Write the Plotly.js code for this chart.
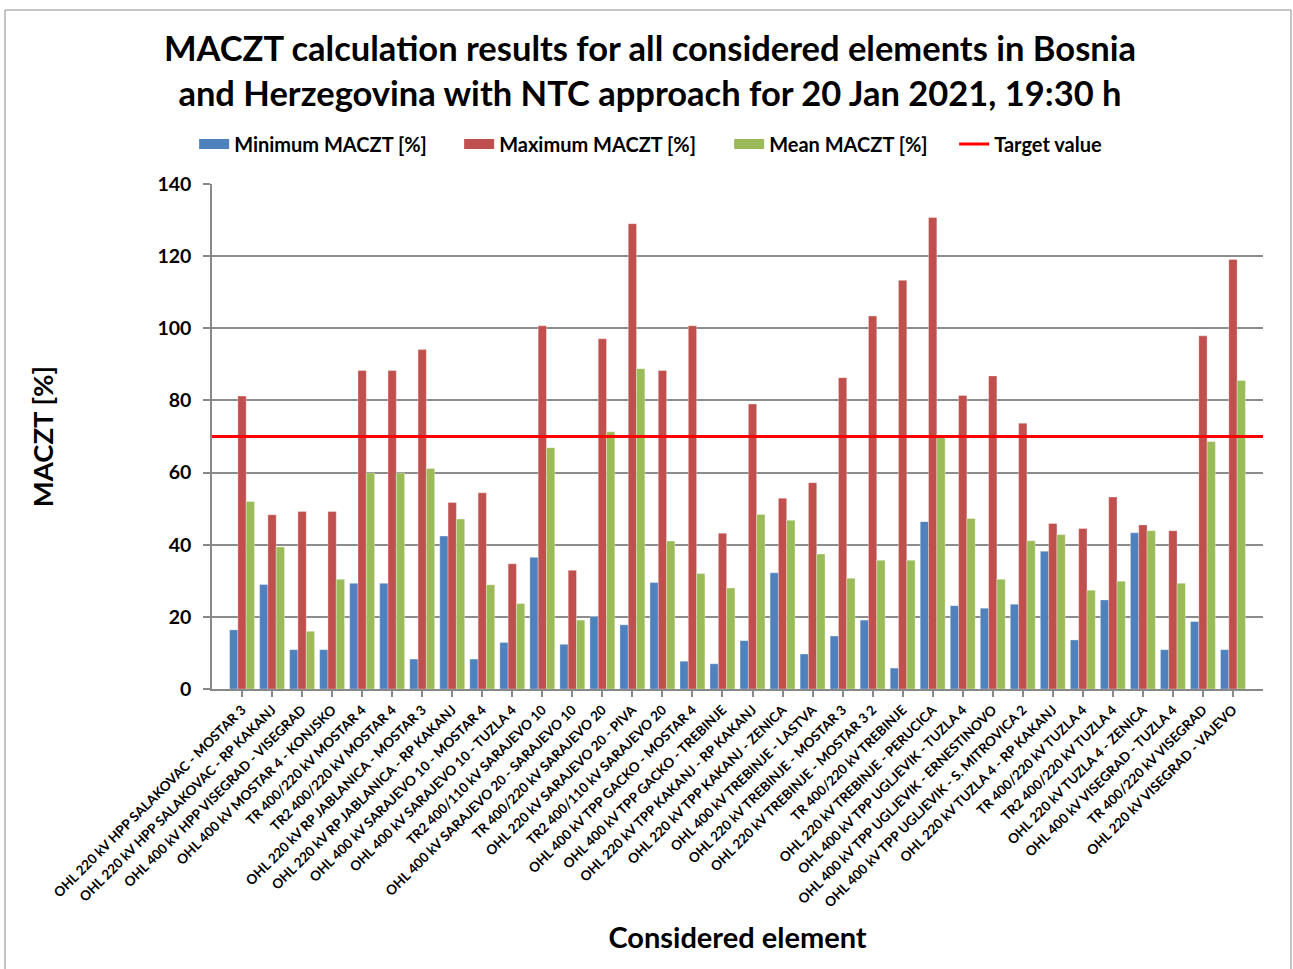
<!DOCTYPE html>
<html>
<head>
<meta charset="utf-8">
<script src="https://cdn.plot.ly/plotly-3.0.1.min.js"></script>
<style>html,body{margin:0;padding:0;background:#fff;}#chart{width:1293px;height:969px;}</style>
</head>
<body>
<div id="chart"></div>
<script>
const categories = [
  "OHL 220 kV HPP SALAKOVAC - MOSTAR 3",
  "OHL 220 kV HPP SALAKOVAC - RP KAKANJ",
  "OHL 400 kV HPP VISEGRAD - VISEGRAD",
  "OHL 400 kV MOSTAR 4 - KONJSKO",
  "TR 400/220 kV MOSTAR 4",
  "TR2 400/220 kV MOSTAR 4",
  "OHL 220 kV RP JABLANICA - MOSTAR 3",
  "OHL 220 kV RP JABLANICA - RP KAKANJ",
  "OHL 400 kV SARAJEVO 10 - MOSTAR 4",
  "OHL 400 kV SARAJEVO 10 - TUZLA 4",
  "TR2 400/110 kV SARAJEVO 10",
  "OHL 400 kV SARAJEVO 20 - SARAJEVO 10",
  "TR 400/220 kV SARAJEVO 20",
  "OHL 220 kV SARAJEVO 20 - PIVA",
  "TR2 400/110 kV SARAJEVO 20",
  "OHL 400 kV TPP GACKO - MOSTAR 4",
  "OHL 400 kV TPP GACKO - TREBINJE",
  "OHL 220 kV TPP KAKANJ - RP KAKANJ",
  "OHL 220 kV TPP KAKANJ - ZENICA",
  "OHL 400 kV TREBINJE - LASTVA",
  "OHL 220 kV TREBINJE - MOSTAR 3",
  "OHL 220 kV TREBINJE - MOSTAR 3 2",
  "TR 400/220 kV TREBINJE",
  "OHL 220 kV TREBINJE - PERUCICA",
  "OHL 400 kV TPP UGLJEVIK - TUZLA 4",
  "OHL 400 kV TPP UGLJEVIK - ERNESTINOVO",
  "OHL 400 kV TPP UGLJEVIK - S. MITROVICA 2",
  "OHL 220 kV TUZLA 4 - RP KAKANJ",
  "TR 400/220 kV TUZLA 4",
  "TR2 400/220 kV TUZLA 4",
  "OHL 220 kV TUZLA 4 - ZENICA",
  "OHL 400 kV VISEGRAD - TUZLA 4",
  "TR 400/220 kV VISEGRAD",
  "OHL 220 kV VISEGRAD - VAJEVO"
];
const minimumMACZT = [16.4, 29.0, 10.9, 10.9, 29.3, 29.3, 8.3, 42.4, 8.3, 12.9, 36.5, 12.4, 20.1, 17.8, 29.5, 7.7, 7.0, 13.4, 32.2, 9.7, 14.7, 19.1, 5.8, 46.4, 23.1, 22.4, 23.5, 38.2, 13.6, 24.7, 43.3, 10.9, 18.7, 10.9];
const maximumMACZT = [81.2, 48.3, 49.2, 49.2, 88.3, 88.3, 94.1, 51.7, 54.4, 34.7, 100.7, 32.9, 97.1, 129.0, 88.3, 100.7, 43.2, 79.0, 52.9, 57.2, 86.3, 103.4, 113.3, 130.7, 81.4, 86.8, 73.7, 45.9, 44.5, 53.2, 45.5, 43.9, 97.9, 119.1];
const meanMACZT = [52.0, 39.4, 16.0, 30.4, 59.9, 59.9, 61.1, 47.1, 28.9, 23.7, 66.9, 19.1, 71.3, 88.8, 41.0, 32.0, 28.0, 48.4, 46.8, 37.4, 30.7, 35.7, 35.7, 69.8, 47.3, 30.4, 41.1, 42.8, 27.4, 29.9, 43.9, 29.3, 68.6, 85.5];
const targetValue = 70;
const yTickValues = [0, 20, 40, 60, 80, 100, 120, 140];
const seriesNames = ["Minimum MACZT [%]", "Maximum MACZT [%]", "Mean MACZT [%]", "Target value"];
const seriesColors = ["#4F81BD", "#C0504D", "#9BBB59", "#FF0000"];

const FONT = "Lato, 'Open Sans', sans-serif";
const barLine = {color: "rgba(255,255,255,0.55)", width: 0.6};
const seriesValues = [minimumMACZT, maximumMACZT, meanMACZT];
const legendWidths = [220, 225, 180, 120];

const traces = [];
seriesValues.forEach((vals, i) => {
  traces.push({type: "bar", name: seriesNames[i], x: categories, y: vals,
    legendgroup: "g" + i, showlegend: false,
    marker: {color: seriesColors[i], line: barLine}});
});
// legend keys (wide colour swatches, as in the original legend)
seriesValues.forEach((vals, i) => {
  traces.push({type: "scatter", mode: "lines", name: seriesNames[i], legendgroup: "g" + i,
    x: [null], y: [null], hoverinfo: "skip", legendwidth: legendWidths[i],
    line: {color: seriesColors[i], width: 12}});
});
traces.push({type: "scatter", mode: "lines", name: seriesNames[3], xaxis: "x2", yaxis: "y",
  x: [0, 1], y: [targetValue, targetValue], legendwidth: legendWidths[3],
  line: {color: seriesColors[3], width: 3}});

const pw = 1051, ph = 505;
const layout = {
  width: 1293, height: 969,
  margin: {l: 212, r: 30, t: 184, b: 280, pad: 0},
  paper_bgcolor: "#fff", plot_bgcolor: "#fff",
  font: {family: FONT, color: "#000", weight: "bold"},
  title: {
    text: "MACZT calculation results for all considered elements in Bosnia<br>and Herzegovina with NTC approach for 20 Jan 2021, 19:30 h",
    font: {family: FONT, size: 34.5, color: "#000", weight: "bold"},
    x: 650/1293, xref: "container", xanchor: "center",
    y: 1 - 61/969, yref: "container", yanchor: "middle"
  },
  barmode: "group", bargap: 0.17, bargroupgap: 0,
  showlegend: true,
  legend: {
    orientation: "h", x: -0.017, xanchor: "left", y: (689-144)/ph, yanchor: "middle",
    font: {family: FONT, size: 20, weight: "bold"},
    traceorder: "normal", itemwidth: 30, tracegroupgap: 0
  },
  xaxis: {
    type: "category", range: [-1, 34], autorange: false,
    tickangle: -45, tickfont: {family: FONT, size: 13.5, weight: "bold"},
    ticks: "outside", ticklen: 6, tickcolor: "#888", tickwidth: 1.5,
    showline: true, linecolor: "#888", linewidth: 1.5,
    showgrid: false, zeroline: false,
    title: {text: "Considered element", font: {family: FONT, size: 29, weight: "bold"}, standoff: 18}
  },
  xaxis2: {overlaying: "x", range: [0, 1], visible: false, fixedrange: true},
  yaxis: {
    range: [0, 140], autorange: false, tickvals: yTickValues,
    tickfont: {family: FONT, size: 19.5, weight: "bold"},
    ticks: "outside", ticklen: 7, tickcolor: "#888", tickwidth: 1.5, ticklabelstandoff: 8,
    showline: true, linecolor: "#888", linewidth: 1.5,
    showgrid: true, gridcolor: "#8c8c8c", gridwidth: 1.5, zeroline: false,
    title: {text: "MACZT [%]", font: {family: FONT, size: 27.5, weight: "bold"}, standoff: 96}
  },
  shapes: [
    {type: "rect", xref: "paper", yref: "paper", layer: "below",
     x0: (5-212)/pw, x1: (1291-212)/pw, y0: (689-990)/ph, y1: (689-10)/ph,
     line: {color: "#8a8a8a", width: 1}, fillcolor: "rgba(0,0,0,0)"}
  ]
};

Plotly.newPlot("chart", traces, layout, {displayModeBar: false, responsive: false});
</script>
</body>
</html>
